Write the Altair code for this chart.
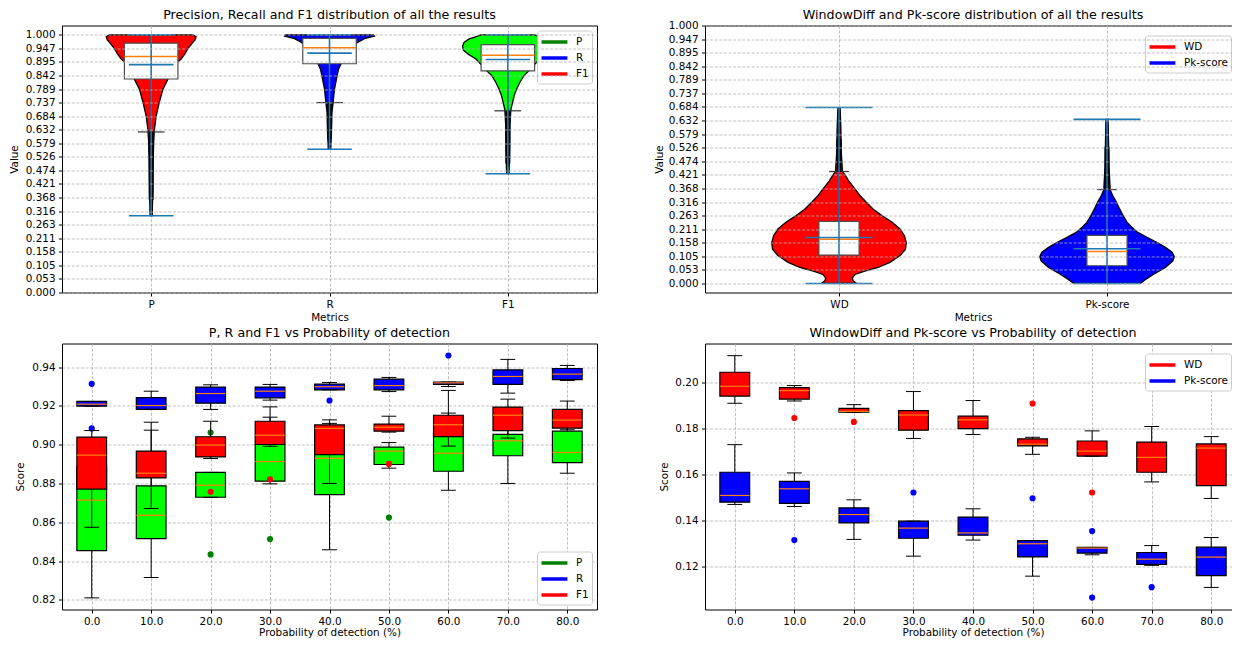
import altair as alt
import pandas as pd

FONT = "DejaVu Sans"
LIME, BLUE, RED, DKGREEN = "#00ff00", "#0000ff", "#ff0000", "#008000"
ORANGE, C0 = "#ff7f0e", "#1f77b4"

# ---------------- shared tick values ----------------
TOP_TICKS = [0.0, 0.052632, 0.105263, 0.157895, 0.210526, 0.263158, 0.315789,
             0.368421, 0.421053, 0.473684, 0.526316, 0.578947, 0.631579,
             0.684211, 0.736842, 0.789474, 0.842105, 0.894737, 0.947368, 1.0]

# ================= Panel A: P / R / F1 violins =================
A_labels = ["P", "R", "F1"]
A_pos = [1, 2, 3]
A_fill = [RED, BLUE, LIME]
A_leg_col = [DKGREEN, BLUE, RED]

A_P_v = [1.000, 0.992, 0.980, 0.965, 0.947, 0.925, 0.906, 0.895, 0.860, 0.828,
         0.789, 0.736, 0.684, 0.631, 0.580, 0.500, 0.400, 0.298]
A_P_hw = [0.235, 0.252, 0.246, 0.227, 0.207, 0.188, 0.168, 0.151, 0.118, 0.094,
          0.066, 0.045, 0.028, 0.018, 0.014, 0.011, 0.009, 0.006]
A_R_v = [1.000, 0.995, 0.985, 0.970, 0.950, 0.920, 0.887, 0.865, 0.842, 0.789,
         0.736, 0.700, 0.620, 0.556]
A_R_hw = [0.246, 0.252, 0.196, 0.157, 0.123, 0.090, 0.064, 0.050, 0.043, 0.028,
          0.020, 0.014, 0.011, 0.007]
A_F_v = [1.000, 0.990, 0.984, 0.970, 0.955, 0.940, 0.926, 0.906, 0.880, 0.860,
         0.842, 0.815, 0.789, 0.763, 0.736, 0.710, 0.650, 0.550, 0.461]
A_F_hw = [0.150, 0.190, 0.217, 0.246, 0.254, 0.249, 0.224, 0.179, 0.143, 0.118,
          0.091, 0.067, 0.049, 0.035, 0.026, 0.017, 0.012, 0.010, 0.007]

A_q1 = [0.8285, 0.8875, 0.860]
A_med = [0.9155, 0.9495, 0.921]
A_q3 = [0.9675, 0.9858, 0.962]
A_wlo = [0.623, 0.737, 0.705]
A_whi = [1.0, 1.0, 1.0]
A_mean = [0.884, 0.929, 0.904]
A_min = [0.298, 0.556, 0.461]
A_max = [1.0, 1.0, 1.0]
A_fl_dense = [(0.36, 0.623), (0.60, 0.737), (0.50, 0.705)]
A_fl_sparse = [(0.30, 0.36), (0.575, 0.60), (0.49, 0.50)]

# ================= Panel B: WD / Pk violins =================
B_labels = ["WD", "Pk-score"]
B_pos = [1, 2]
B_fill = [RED, BLUE]
B_leg_col = [RED, BLUE]

B_W_v = [0.000, 0.012, 0.022, 0.035, 0.047, 0.062, 0.082, 0.108, 0.133, 0.159,
         0.185, 0.211, 0.237, 0.263, 0.289, 0.316, 0.341, 0.369, 0.397, 0.423,
         0.435, 0.500, 0.600, 0.682]
B_W_hw = [0.065, 0.052, 0.050, 0.060, 0.093, 0.146, 0.190, 0.228, 0.248, 0.251,
          0.244, 0.228, 0.198, 0.160, 0.127, 0.101, 0.078, 0.058, 0.037, 0.021,
          0.013, 0.009, 0.007, 0.004]
B_K_v = [0.000, 0.017, 0.036, 0.062, 0.088, 0.104, 0.121, 0.140, 0.158, 0.179,
         0.198, 0.218, 0.237, 0.263, 0.289, 0.316, 0.341, 0.363, 0.450, 0.550, 0.636]
B_K_hw = [0.124, 0.147, 0.174, 0.218, 0.246, 0.251, 0.243, 0.218, 0.189, 0.149,
          0.115, 0.093, 0.075, 0.060, 0.047, 0.035, 0.021, 0.012, 0.0075, 0.0056, 0.004]

B_q1 = [0.110, 0.0687]
B_med = [0.171, 0.1244]
B_q3 = [0.241, 0.1866]
B_wlo = [0.0, 0.0]
B_whi = [0.434, 0.364]
B_mean = [0.178, 0.1348]
B_min = [0.0, 0.0]
B_max = [0.682, 0.636]
B_fl_dense = [(0.434, 0.56), (0.364, 0.53)]
B_fl_sparse = [(0.56, 0.67), (0.53, 0.58)]

# ================= Panel C: P/R/F1 vs probability =================
PROB_LABELS = ["0.0", "10.0", "20.0", "30.0", "40.0", "50.0", "60.0", "70.0", "80.0"]

C_P = dict(q1=[0.8454, 0.8516, 0.8729, 0.8812, 0.8743, 0.8898, 0.8863, 0.8943, 0.8908],
           med=[0.8714, 0.8636, 0.8791, 0.8913, 0.8930, 0.8967, 0.8956, 0.9020, 0.8960],
           q3=[0.8890, 0.8788, 0.8857, 0.9001, 0.9000, 0.8987, 0.9060, 0.9053, 0.9070],
           wlo=[0.8210, 0.8315, 0.8729, 0.8798, 0.8458, 0.8879, 0.8765, 0.8800, 0.8853],
           whi=[0.9010, 0.9075, 0.8857, 0.9142, 0.9110, 0.9011, 0.9280, 0.9150, 0.9150])
C_P_fl = [("20.0", 0.9063), ("20.0", 0.8434), ("30.0", 0.8513), ("50.0", 0.8624)]

C_R = dict(q1=[0.9199, 0.9182, 0.9214, 0.9242, 0.9283, 0.9283, 0.9311, 0.9311, 0.9336],
           med=[0.9209, 0.9202, 0.9264, 0.9276, 0.9299, 0.9305, 0.9319, 0.9352, 0.9364],
           q3=[0.9223, 0.9243, 0.9297, 0.9297, 0.9312, 0.9338, 0.9323, 0.9386, 0.9393],
           wlo=[0.9199, 0.9182, 0.9182, 0.9230, 0.9283, 0.9274, 0.9300, 0.9266, 0.9331],
           whi=[0.9223, 0.9276, 0.9309, 0.9311, 0.9321, 0.9347, 0.9323, 0.9440, 0.9409])
C_R_fl = [("0.0", 0.9314), ("0.0", 0.9084), ("40.0", 0.9228), ("60.0", 0.9460)]

C_F = dict(q1=[0.8771, 0.8829, 0.8937, 0.9001, 0.8949, 0.9070, 0.9042, 0.9073, 0.9085],
           med=[0.8946, 0.8853, 0.8998, 0.9049, 0.9084, 0.9090, 0.9103, 0.9152, 0.9127],
           q3=[0.9039, 0.8967, 0.9041, 0.9121, 0.9102, 0.9106, 0.9152, 0.9194, 0.9182],
           wlo=[0.8574, 0.8671, 0.8929, 0.8992, 0.8800, 0.9065, 0.8993, 0.9034, 0.9077],
           whi=[0.9073, 0.9116, 0.9121, 0.9195, 0.9128, 0.9147, 0.9163, 0.9235, 0.9225])
C_F_fl = [("20.0", 0.8757), ("30.0", 0.8822), ("50.0", 0.8901)]

C_TICKS = [0.82, 0.84, 0.86, 0.88, 0.90, 0.92, 0.94]

# ================= Panel D: WD/Pk vs probability =================
D_W = dict(q1=[0.1941, 0.1928, 0.1871, 0.1793, 0.1800, 0.1725, 0.1680, 0.1610, 0.1552],
           med=[0.1984, 0.1965, 0.1875, 0.1859, 0.1838, 0.1732, 0.1702, 0.1675, 0.1715],
           q3=[0.2045, 0.1978, 0.1888, 0.1878, 0.1854, 0.1755, 0.1746, 0.1741, 0.1733],
           wlo=[0.1910, 0.1920, 0.1871, 0.1757, 0.1774, 0.1688, 0.1680, 0.1568, 0.1496],
           whi=[0.2117, 0.1987, 0.1904, 0.1961, 0.1922, 0.1762, 0.1790, 0.1809, 0.1765])
D_W_fl = [("10.0", 0.1846), ("20.0", 0.1829), ("50.0", 0.1909), ("60.0", 0.1522)]

D_K = dict(q1=[0.1480, 0.1475, 0.1390, 0.1323, 0.1336, 0.1242, 0.1258, 0.1209, 0.1160],
           med=[0.1509, 0.1538, 0.1426, 0.1367, 0.1346, 0.1299, 0.1280, 0.1232, 0.1241],
           q3=[0.1610, 0.1570, 0.1455, 0.1397, 0.1415, 0.1313, 0.1283, 0.1261, 0.1284],
           wlo=[0.1470, 0.1461, 0.1318, 0.1245, 0.1315, 0.1158, 0.1251, 0.1205, 0.1109],
           whi=[0.1730, 0.1607, 0.1490, 0.1397, 0.1451, 0.1313, 0.1283, 0.1291, 0.1326])
D_K_fl = [("10.0", 0.1315), ("30.0", 0.1522), ("50.0", 0.1497), ("60.0", 0.1354),
          ("60.0", 0.1065), ("70.0", 0.1110)]

D_TICKS = [0.12, 0.14, 0.16, 0.18, 0.20]


def label_expr(labels):
    arr = ",".join("'" + s + "'" for s in labels)
    return "[" + arr + "][round(datum.value) - 1]"


def make_legend(orient, offset=5):
    return alt.Legend(title=None, orient=orient, offset=offset, symbolType="M-1,0H2.7",
                      symbolStrokeWidth=3.5, symbolSize=196, labelFont=FONT,
                      labelFontSize=10.4, labelColor="black", fillColor="white",
                      strokeColor="#cccccc", padding=2.5, cornerRadius=3,
                      rowPadding=0, labelOffset=18.5)


def violin_panel(title, labels, pos, fills, leg_cols, profiles, q1, med, q3, wlo, whi,
                 mean, vmin, vmax, fl_dense, fl_sparse, box_hw, cap_hw, line_hw,
                 ydomain, width, height, ytitle_pad, title_offset, leg_offset):
    xs = alt.Scale(domain=[0.5, len(pos) + 0.5], nice=False, zero=False)
    ys = alt.Scale(domain=ydomain, nice=False, zero=False)
    xaxis = alt.Axis(values=pos, labelExpr=label_expr(labels), title="Metrics", grid=True,
                     titlePadding=3)
    yaxis = alt.Axis(values=TOP_TICKS, format=".3f", title="Value", grid=True, zindex=1,
                     titlePadding=ytitle_pad)

    def X(f):
        return alt.X(f, type="quantitative", scale=xs, axis=xaxis)

    def Y(f):
        return alt.Y(f, type="quantitative", scale=ys, axis=yaxis)

    st = pd.DataFrame(dict(name=labels, pos=pos, q1=q1, med=med, q3=q3, wlo=wlo, whi=whi,
                           mean=mean, vmin=vmin, vmax=vmax,
                           fdlo=[a for a, b in fl_dense], fdhi=[b for a, b in fl_dense],
                           fslo=[a for a, b in fl_sparse], fshi=[b for a, b in fl_sparse]))
    base = alt.Chart(st)
    bx = base.transform_calculate(
        bl=f"datum.pos - {box_hw}", br=f"datum.pos + {box_hw}",
        cl=f"datum.pos - {cap_hw}", cr=f"datum.pos + {cap_hw}",
        ll=f"datum.pos - {line_hw}", lr=f"datum.pos + {line_hw}")

    layers = []
    for p, fc, (vals, hws) in zip(pos, fills, profiles):
        d = pd.DataFrame(dict(v=vals, hw=hws))
        d["pos"] = p
        layers.append(alt.Chart(d).transform_calculate(
            lo="datum.pos - datum.hw", hi="datum.pos + datum.hw").mark_area(
            orient="horizontal", fill=fc, stroke="black", strokeWidth=1.3).encode(
            y=Y("v"), x=X("lo"), x2="hi:Q"))
    layers += [
        bx.mark_rect(fill="white", stroke="#4d4d4d", strokeWidth=1.2).encode(
            x=X("bl"), x2="br:Q", y=Y("q1"), y2="q3:Q"),
        bx.mark_rule(color="black").encode(x=X("pos"), y=Y("wlo"), y2="q1:Q"),
        bx.mark_rule(color="black").encode(x=X("pos"), y=Y("q3"), y2="whi:Q"),
        bx.mark_rule(color="#333333", strokeWidth=1.2).encode(x=X("cl"), x2="cr:Q", y=Y("wlo")),
        bx.mark_rule(color="#333333", strokeWidth=1.2).encode(x=X("cl"), x2="cr:Q", y=Y("whi")),
        bx.mark_rule(color="black", strokeWidth=5).encode(x=X("pos"), y=Y("fdlo"), y2="fdhi:Q"),
        bx.mark_rule(color="black", strokeWidth=2.5).encode(x=X("pos"), y=Y("fslo"), y2="fshi:Q"),
        bx.mark_rule(color=ORANGE, strokeWidth=1.5).encode(x=X("bl"), x2="br:Q", y=Y("med")),
        bx.mark_rule(color=C0, strokeWidth=1.6).encode(x=X("pos"), y=Y("vmin"), y2="vmax:Q"),
        bx.mark_rule(color=C0, strokeWidth=1.6).encode(x=X("ll"), x2="lr:Q", y=Y("mean")),
        bx.mark_rule(color=C0, strokeWidth=1.6).encode(x=X("ll"), x2="lr:Q", y=Y("vmin")),
        bx.mark_rule(color=C0, strokeWidth=1.6).encode(x=X("ll"), x2="lr:Q", y=Y("vmax")),
        base.mark_rule(strokeWidth=4).encode(
            x=X("pos"), x2="pos:Q", y=Y("med"), y2="med:Q",
            color=alt.Color("name:N", scale=alt.Scale(domain=labels, range=leg_cols),
                            legend=make_legend("top-right", leg_offset))),
    ]
    return alt.layer(*layers).properties(
        width=width, height=height, title=alt.TitleParams(title, offset=title_offset))


def box_panel(title, series, ydomain, yticks, leg_orient, width, height, ytitle_pad,
              leg_offset):
    pos = list(range(1, len(PROB_LABELS) + 1))
    xs = alt.Scale(domain=[0.5, len(pos) + 0.5], nice=False, zero=False)
    ys = alt.Scale(domain=ydomain, nice=False, zero=False)
    xaxis = alt.Axis(values=pos, labelExpr=label_expr(PROB_LABELS),
                     title="Probability of detection (%)", grid=True, titlePadding=1)
    yaxis = alt.Axis(values=yticks, format=".2f", title="Score", grid=True,
                     titlePadding=ytitle_pad)

    def X(f):
        return alt.X(f, type="quantitative", scale=xs, axis=xaxis)

    def Y(f):
        return alt.Y(f, type="quantitative", scale=ys, axis=yaxis)

    layers = []
    meds = []
    leg_rows = []
    for name, fill, fcol, stats, fl in series:
        st = pd.DataFrame(dict(pos=pos, **stats))
        bx = alt.Chart(st).transform_calculate(
            bl="datum.pos - 0.25", br="datum.pos + 0.25",
            cl="datum.pos - 0.125", cr="datum.pos + 0.125")
        layers += [
            bx.mark_rect(fill=fill, stroke="black", strokeWidth=1.2).encode(
                x=X("bl"), x2="br:Q", y=Y("q1"), y2="q3:Q"),
            bx.mark_rule(color="black").encode(x=X("pos"), y=Y("wlo"), y2="q1:Q"),
            bx.mark_rule(color="black").encode(x=X("pos"), y=Y("q3"), y2="whi:Q"),
            bx.mark_rule(color="black").encode(x=X("cl"), x2="cr:Q", y=Y("wlo")),
            bx.mark_rule(color="black").encode(x=X("cl"), x2="cr:Q", y=Y("whi")),
        ]
        if fl:
            fd = pd.DataFrame(dict(pos=[PROB_LABELS.index(g) + 1 for g, v in fl],
                                   v=[v for g, v in fl]))
            layers.append(alt.Chart(fd).mark_circle(color=fcol, size=38, opacity=1).encode(
                x=X("pos"), y=Y("v")))
        meds.append(bx.mark_rule(color=ORANGE, strokeWidth=1.2).encode(
            x=X("bl"), x2="br:Q", y=Y("med")))
        leg_rows.append(dict(name=name, col=fcol, pos=1, v=stats["med"][0]))
    layers += meds
    ld = pd.DataFrame(leg_rows)
    layers.append(alt.Chart(ld).mark_rule(strokeWidth=4).encode(
        x=X("pos"), x2="pos:Q", y=Y("v"), y2="v:Q",
        color=alt.Color("name:N", scale=alt.Scale(domain=list(ld["name"]), range=list(ld["col"])),
                        legend=make_legend(leg_orient, leg_offset))))
    return alt.layer(*layers).properties(width=width, height=height, title=title)


tl = violin_panel("Precision, Recall and F1 distribution of all the results",
                  A_labels, A_pos, A_fill, A_leg_col,
                  [(A_P_v, A_P_hw), (A_R_v, A_R_hw), (A_F_v, A_F_hw)],
                  A_q1, A_med, A_q3, A_wlo, A_whi, A_mean, A_min, A_max,
                  A_fl_dense, A_fl_sparse, 0.15, 0.075, 0.125,
                  [0.0, 1.036], 535, 267, 6, 4, 5)
tr = violin_panel("WindowDiff and Pk-score distribution of all the results",
                  B_labels, B_pos, B_fill, B_leg_col,
                  [(B_W_v, B_W_hw), (B_K_v, B_K_hw)],
                  B_q1, B_med, B_q3, B_wlo, B_whi, B_mean, B_min, B_max,
                  B_fl_dense, B_fl_sparse, 0.075, 0.037, 0.125,
                  [-0.035, 1.0], 536, 267, 3.5, -1, 10)
bl = box_panel("P, R and F1 vs Probability of detection",
               [("P", LIME, DKGREEN, C_P, C_P_fl), ("R", BLUE, BLUE, C_R, C_R_fl),
                ("F1", RED, RED, C_F, C_F_fl)],
               [0.815, 0.9522], C_TICKS, "bottom-right", 535, 266, 6, 5)
br = box_panel("WindowDiff and Pk-score vs Probability of detection",
               [("WD", RED, RED, D_W, D_W_fl), ("Pk-score", BLUE, BLUE, D_K, D_K_fl)],
               [0.1013, 0.2170], D_TICKS, "top-right", 536, 266, 5, 10)

chart = alt.concat(tl, tr, bl, br, columns=2, spacing={"row": 51, "column": 108},
                   bounds="flush",
                   padding={"left": 0, "top": -0.5, "right": -10, "bottom": -1}).resolve_scale(
    x="independent", y="independent", color="independent").configure_axis(
    labelFont=FONT, titleFont=FONT, labelFontSize=10.4, titleFontSize=10.4,
    titleFontWeight="normal", labelColor="black", titleColor="black", tickColor="black",
    tickSize=3.5, domain=False, gridColor="#b0b0b0", gridDash=[3, 1.6], gridWidth=0.8,
    labelPadding=3.5).configure_view(stroke="black", strokeWidth=1).configure_title(
    font=FONT, fontSize=12.7, fontWeight="normal", color="black", offset=4, frame="group")

chart.save("out.html", embed_options={"renderer": "svg", "actions": False})
